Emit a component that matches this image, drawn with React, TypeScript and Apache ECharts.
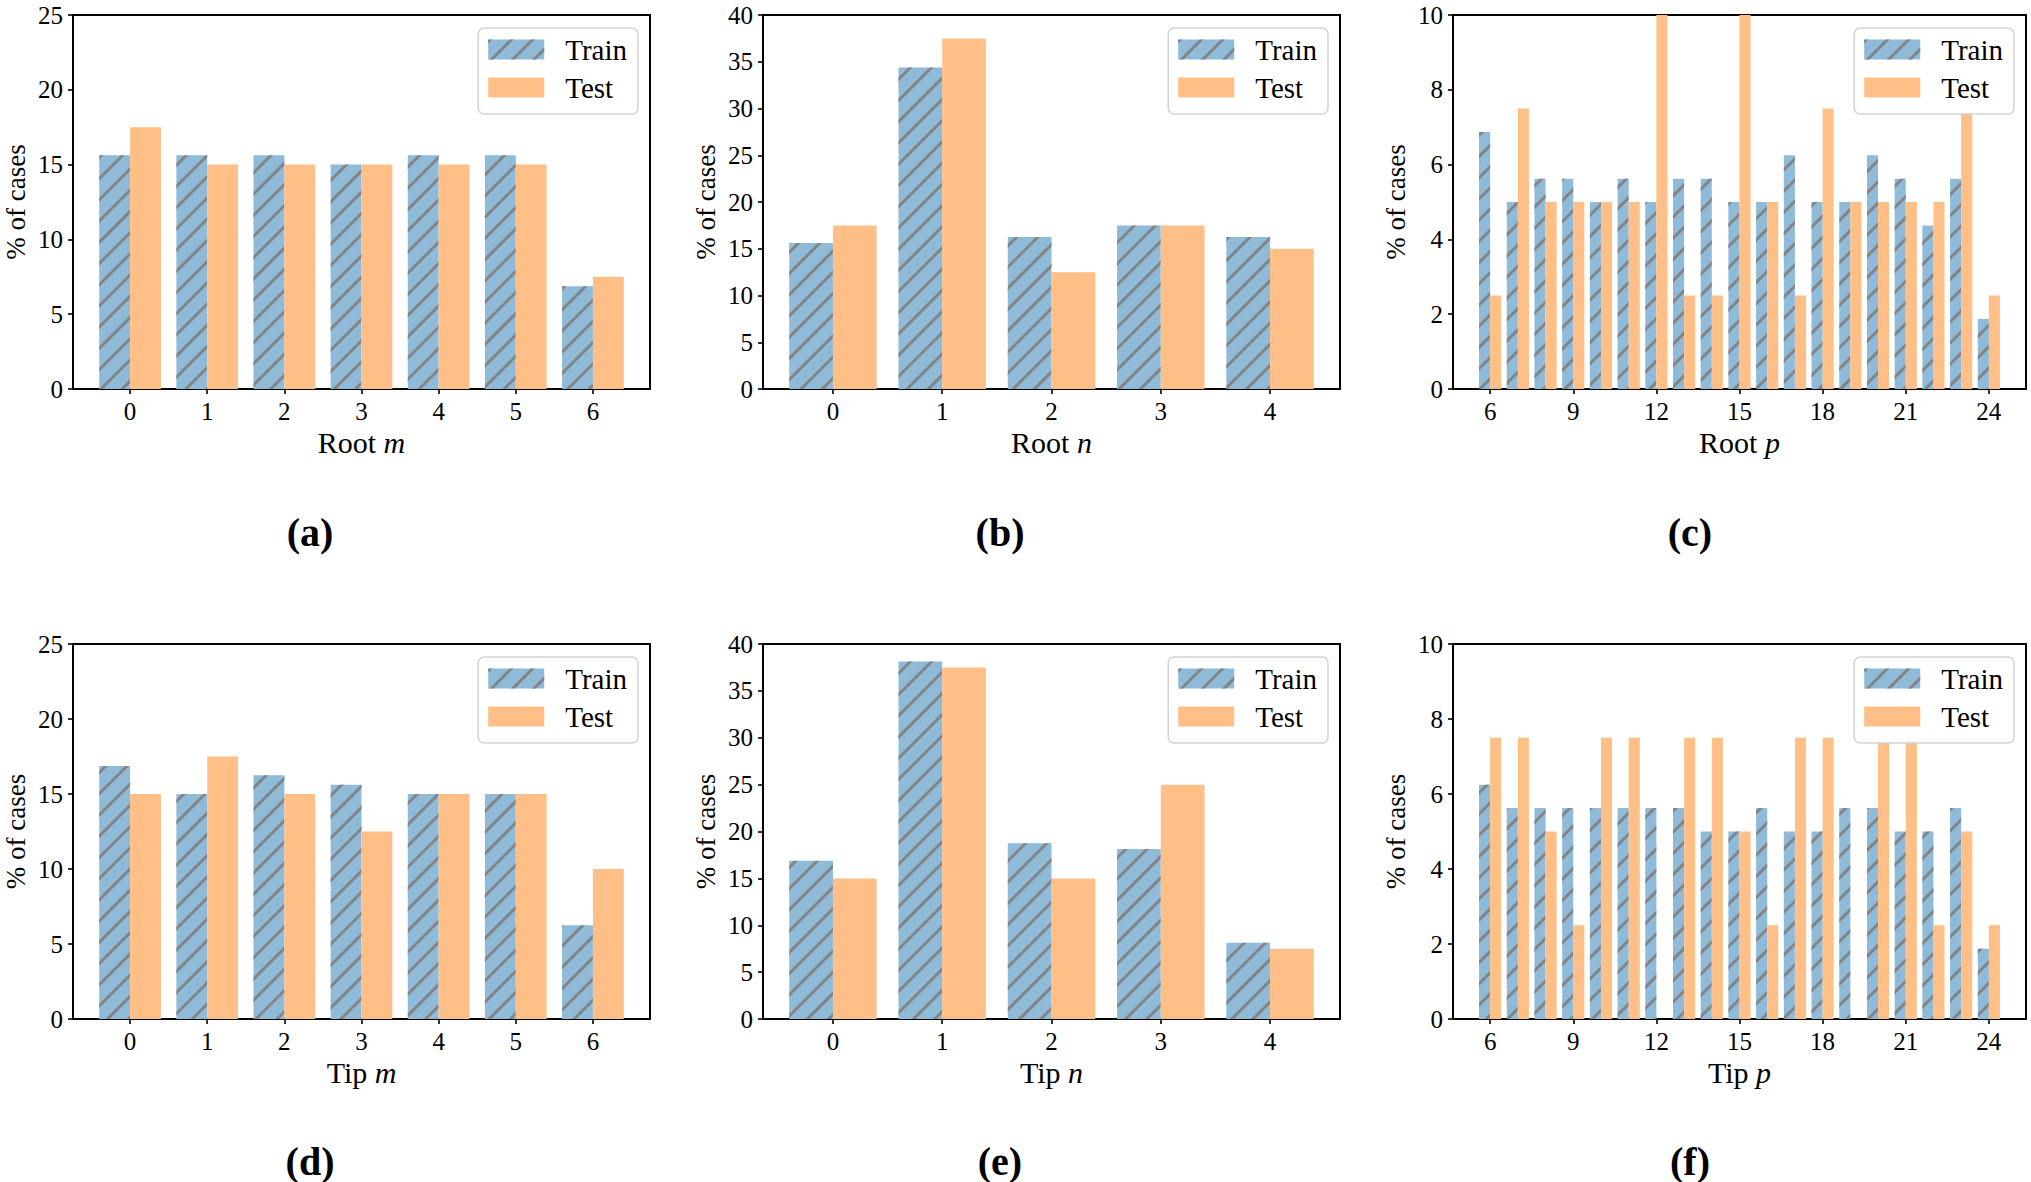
import * as echarts from 'echarts';
import React, { useEffect, useRef } from 'react';

// Root m
const rootM = [0, 1, 2, 3, 4, 5, 6];
const rootMTrain = [15.625, 15.625, 15.625, 15.0, 15.625, 15.625, 6.875];
const rootMTest = [17.5, 15, 15, 15, 15, 15, 7.5];

// Root n
const rootN = [0, 1, 2, 3, 4];
const rootNTrain = [15.625, 34.375, 16.25, 17.5, 16.25];
const rootNTest = [17.5, 37.5, 12.5, 17.5, 15];

// Root p
const rootP = [6, 7, 8, 9, 10, 11, 12, 13, 14, 15, 16, 17, 18, 19, 20, 21, 22, 23, 24];
const rootPTrain = [6.875, 5, 5.625, 5.625, 5, 5.625, 5, 5.625, 5.625, 5, 5, 6.25, 5, 5, 6.25, 5.625, 4.375, 5.625, 1.875];
const rootPTest = [2.5, 7.5, 5, 5, 5, 5, 10, 2.5, 2.5, 10, 5, 2.5, 7.5, 5, 5, 5, 5, 7.5, 2.5];

// Tip m
const tipM = [0, 1, 2, 3, 4, 5, 6];
const tipMTrain = [16.875, 15, 16.25, 15.625, 15, 15, 6.25];
const tipMTest = [15, 17.5, 15, 12.5, 15, 15, 10];

// Tip n
const tipN = [0, 1, 2, 3, 4];
const tipNTrain = [16.875, 38.125, 18.75, 18.125, 8.125];
const tipNTest = [15, 37.5, 15, 25, 7.5];

// Tip p
const tipP = [6, 7, 8, 9, 10, 11, 12, 13, 14, 15, 16, 17, 18, 19, 20, 21, 22, 23, 24];
const tipPTrain = [6.25, 5.625, 5.625, 5.625, 5.625, 5.625, 5.625, 5.625, 5, 5, 5.625, 5, 5, 5.625, 5.625, 5, 5, 5.625, 1.875];
const tipPTest = [7.5, 7.5, 5, 2.5, 7.5, 7.5, 0, 7.5, 7.5, 5, 2.5, 7.5, 7.5, 0, 7.5, 7.5, 2.5, 5, 2.5];

// tick labels
const mnTicksM = [0, 1, 2, 3, 4, 5, 6];
const mnTicksN = [0, 1, 2, 3, 4];
const pTicks = [6, 9, 12, 15, 18, 21, 24];

const yMaxes = [25, 40, 10, 25, 40, 10];
const yIntervals = [5, 5, 2, 5, 5, 2];
const xNames = [['Root ', 'm'], ['Root ', 'n'], ['Root ', 'p'], ['Tip ', 'm'], ['Tip ', 'n'], ['Tip ', 'p']];
const panelLabels = ['(a)', '(b)', '(c)', '(d)', '(e)', '(f)'];

const panels = [
  { cats: rootM, train: rootMTrain, test: rootMTest, ticks: mnTicksM },
  { cats: rootN, train: rootNTrain, test: rootNTest, ticks: mnTicksN },
  { cats: rootP, train: rootPTrain, test: rootPTest, ticks: pTicks },
  { cats: tipM, train: tipMTrain, test: tipMTest, ticks: mnTicksM },
  { cats: tipN, train: tipNTrain, test: tipNTest, ticks: mnTicksN },
  { cats: tipP, train: tipPTrain, test: tipPTest, ticks: pTicks },
];

const W = 2031;
const H = 1182;
const FONT = '"Liberation Serif", "Times New Roman", serif';
const COLS = [
  { left: 73, width: 577 },
  { left: 763, width: 577 },
  { left: 1453, width: 573 },
];
const ROWS = [
  { top: 15, height: 374 },
  { top: 644, height: 375 },
];

const TRAIN_COLOR = '#8fbbd9';
const TEST_COLOR = '#ffbf86';

// "//" hatch on the train bars
const hatch = {
  symbol: 'rect',
  symbolSize: 1,
  color: 'rgba(128, 128, 128, 0.9)',
  dashArrayX: [1, 0],
  dashArrayY: [2.2, 12],
  rotation: -Math.PI / 4,
};

const buildOption = () => {
  const grid: any[] = [];
  const xAxis: any[] = [];
  const yAxis: any[] = [];
  const series: any[] = [];
  const legend: any[] = [];
  const graphic: any[] = [];

  panels.forEach((p, i) => {
    const col = COLS[i % 3];
    const row = ROWS[Math.floor(i / 3)];
    const first = p.cats[0];
    const last = p.cats[p.cats.length - 1];
    // matplotlib style margins: 5% of data span on each side
    const span = last - first + 0.8;
    const xMin = first - 0.4 - span * 0.05;
    const xMax = last + 0.4 + span * 0.05;
    const pxPerUnit = col.width / (xMax - xMin);
    const barWidth = 0.4 * pxPerUnit;

    grid.push({
      left: col.left,
      top: row.top,
      width: col.width,
      height: row.height,
      show: true,
      borderColor: '#000',
      borderWidth: 2,
      backgroundColor: 'transparent',
    });

    xAxis.push({
      gridIndex: i,
      type: 'value',
      min: xMin,
      max: xMax,
      axisLine: { show: true, onZero: false, lineStyle: { color: '#000', width: 2 } },
      axisTick: { show: true, customValues: p.ticks, length: 5, lineStyle: { color: '#000', width: 1.6 } },
      axisLabel: { customValues: p.ticks, fontFamily: FONT, fontSize: 25, color: '#000', margin: 10 },
      splitLine: { show: false },
      name: `{a|${xNames[i][0]}}{b|${xNames[i][1]}}`,
      nameLocation: 'middle',
      nameGap: 38,
      nameTextStyle: {
        fontFamily: FONT,
        fontSize: 30,
        color: '#000',
        rich: {
          a: { fontFamily: FONT, fontSize: 30, color: '#000' },
          b: { fontFamily: FONT, fontSize: 30, color: '#000', fontStyle: 'italic' },
        },
      },
    });

    yAxis.push({
      gridIndex: i,
      type: 'value',
      min: 0,
      max: yMaxes[i],
      interval: yIntervals[i],
      axisLine: { show: true, onZero: false, lineStyle: { color: '#000', width: 2 } },
      axisTick: { show: true, length: 5, lineStyle: { color: '#000', width: 1.6 } },
      axisLabel: { fontFamily: FONT, fontSize: 25, color: '#000', margin: 10 },
      splitLine: { show: false },
      name: '% of cases',
      nameLocation: 'middle',
      nameGap: 44,
      nameRotate: 90,
      nameTextStyle: { fontFamily: FONT, fontSize: 27, color: '#000' },
    });

    series.push({
      type: 'bar',
      name: 'Train',
      xAxisIndex: i,
      yAxisIndex: i,
      data: p.cats.map((c, j) => [c, p.train[j]]),
      barWidth,
      barGap: '0%',
      itemStyle: { color: TRAIN_COLOR, decal: hatch },
    });
    series.push({
      type: 'bar',
      name: 'Test',
      xAxisIndex: i,
      yAxisIndex: i,
      data: p.cats.map((c, j) => [c, p.test[j]]),
      barWidth,
      barGap: '0%',
      itemStyle: { color: TEST_COLOR },
    });

    legend.push({
      orient: 'vertical',
      right: W - (col.left + col.width) + 12,
      top: row.top + 13,
      data: ['Train', 'Test'],
      icon: 'rect',
      itemWidth: 56,
      itemHeight: 20,
      itemGap: 9,
      padding: [7, 11, 12, 10],
      backgroundColor: '#fff',
      borderColor: '#d3d3d3',
      borderWidth: 1.5,
      borderRadius: 6,
      selectedMode: false,
      textStyle: { fontFamily: FONT, fontSize: 29, color: '#000', padding: [0, 0, 0, 16] },
    });

    graphic.push({
      type: 'text',
      x: col.left + 237,
      y: row.top + 517,
      style: {
        text: panelLabels[i],
        fontFamily: FONT,
        fontWeight: 'bold',
        fontSize: 40,
        fill: '#000',
        align: 'center',
        verticalAlign: 'middle',
      },
    });
  });

  return {
    animation: false,
    backgroundColor: '#fff',
    grid,
    xAxis,
    yAxis,
    series,
    legend,
    graphic,
  };
};

const App = () => {
  const chartRef = useRef<HTMLDivElement>(null);

  useEffect(() => {
    document.body.style.margin = '0';
    document.body.style.overflow = 'hidden';
    if (!chartRef.current) return;
    const chart = echarts.init(chartRef.current, undefined, { renderer: 'svg' });
    chart.setOption(buildOption());
    return () => {
      chart.dispose();
    };
  }, []);

  return <div ref={chartRef} style={{ width: W, height: H }} />;
};

export default App;
